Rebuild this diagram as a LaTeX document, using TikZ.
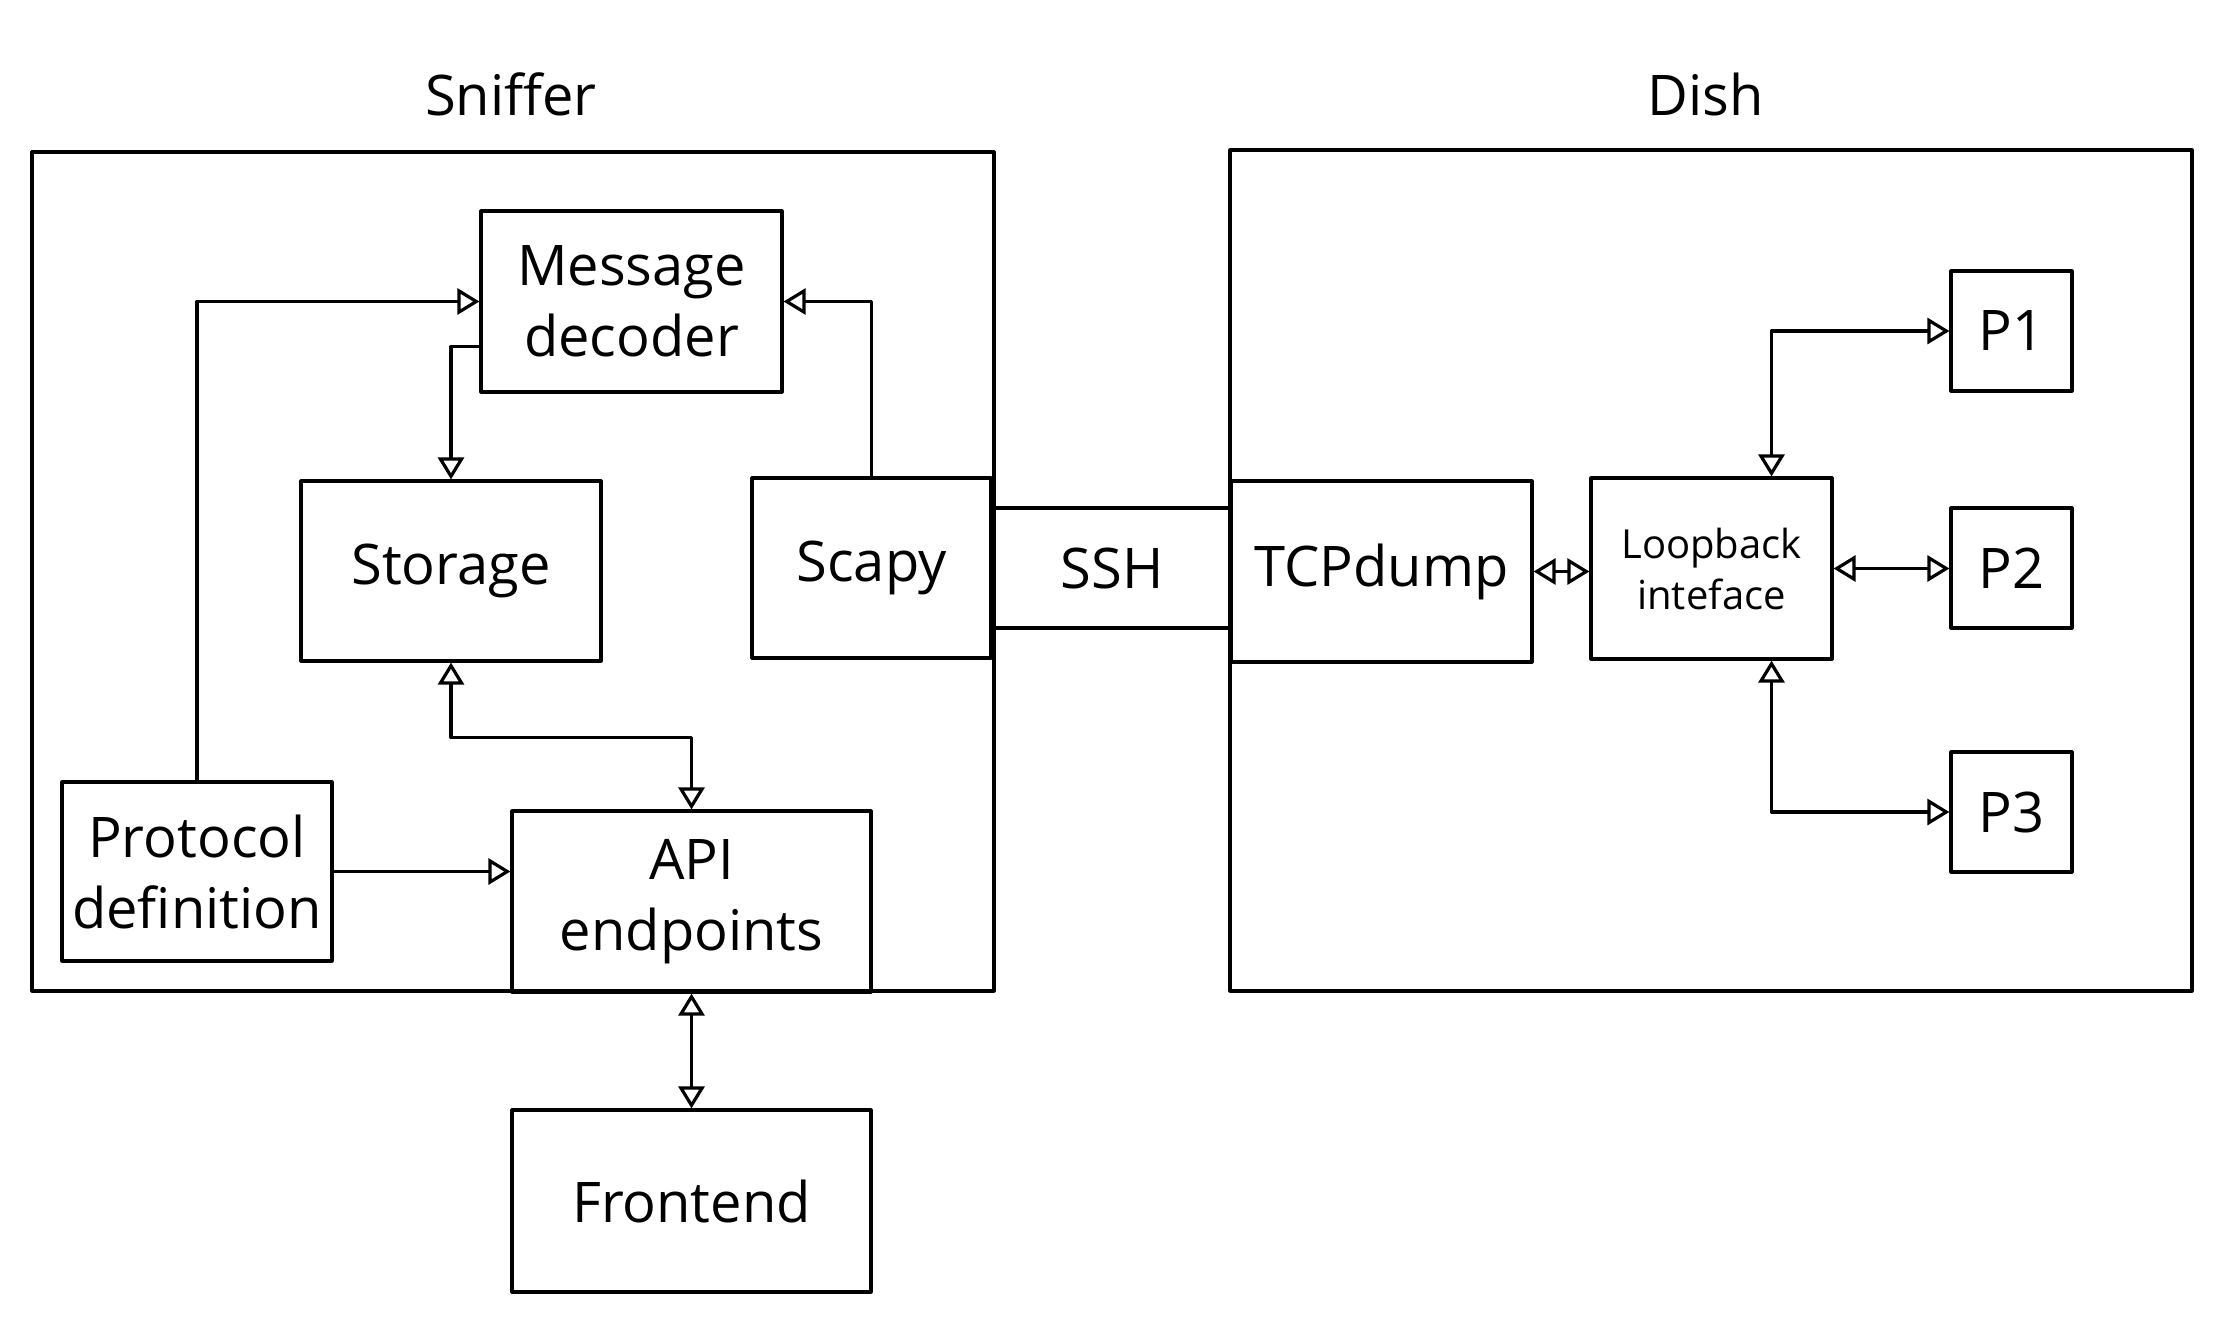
\documentclass[tikz,border=0pt]{standalone}
\usepackage{fontspec}
\setmainfont{Open Sans}
\usetikzlibrary{arrows.meta,calc}
\begin{document}
\begin{tikzpicture}[x=1pt,y=-1pt,
  line width=3.2pt, line join=round, line cap=round,
  box/.style={draw, rectangle, inner sep=0pt, align=center,
    font=\fontsize{56}{71}\selectfont},
  smallbox/.style={box, font=\fontsize{40}{51}\selectfont},
  frame/.style={draw, rectangle},
  title/.style={font=\fontsize{56}{70}\selectfont, inner sep=0pt},
  tip/.style={-{Triangle[open,length=22pt,width=26pt,line width=3.2pt]}},
  tips/.style={{Triangle[open,length=22pt,width=26pt,line width=3.2pt]}-{Triangle[open,length=22pt,width=26pt,line width=3.2pt]}}
]
\useasboundingbox[fill=white] (0,0) rectangle (2223,1323);

% frames
\draw[frame] (32,152) rectangle (994,991);
\draw[frame] (1230,150) rectangle (2192,991);
\node[title] (sniffer) at (511,94) {Sniffer};
\node[title] (dish) at (1706,94) {Dish};

% Sniffer side
\node[box, minimum width=301pt, minimum height=181pt] (msg) at (631.5,301.5) {Message\\decoder};
\node[box, minimum width=300pt, minimum height=180pt] (storage) at (451,571) {Storage};
\node[box, minimum width=239pt, minimum height=180pt] (scapy) at (871.5,568) {Scapy};
\node[box, minimum width=270pt, minimum height=179pt] (proto) at (197,871.5) {Protocol\\definition};
\node[box, minimum width=359pt, minimum height=181pt] (api) at (691.5,901.5) {API\\endpoints};
\node[box, minimum width=359pt, minimum height=182pt] (front) at (691.5,1201) {Frontend};

% SSH
\node[box, minimum width=236pt, minimum height=120pt] (ssh) at (1112,568) {SSH};

% Dish side
\node[box, minimum width=301pt, minimum height=181pt] (tcp) at (1381.5,571.5) {TCPdump};
\node[smallbox, minimum width=241pt, minimum height=181pt] (loop) at (1711.5,568.5) {Loopback\\inteface};
\node[box, minimum width=121pt, minimum height=120pt] (p1) at (2011.5,331) {P1};
\node[box, minimum width=121pt, minimum height=120pt] (p2) at (2011.5,568) {P2};
\node[box, minimum width=121pt, minimum height=120pt] (p3) at (2011.5,812) {P3};

% connectors
\draw[tip] (proto.north) |- (msg.west);
\draw[tip] ([yshift=-45pt]msg.west) -| (storage.north);
\draw[tip] (scapy.north) |- (msg.east);
\draw[tips] (storage.south) -- ++(0,75) -| (api.north);
\draw[tip] (proto.east) -- (proto.east -| api.west);
\draw[tips] (api.south) -- (front.north);

\draw[tips] (tcp.east) -- (tcp.east -| loop.west);
\draw[tips] ([xshift=60pt]loop.north) |- (p1.west);
\draw[tips] (loop.east) -- (loop.east -| p2.west);
\draw[tips] ([xshift=60pt]loop.south) |- (p3.west);
\end{tikzpicture}
\end{document}
